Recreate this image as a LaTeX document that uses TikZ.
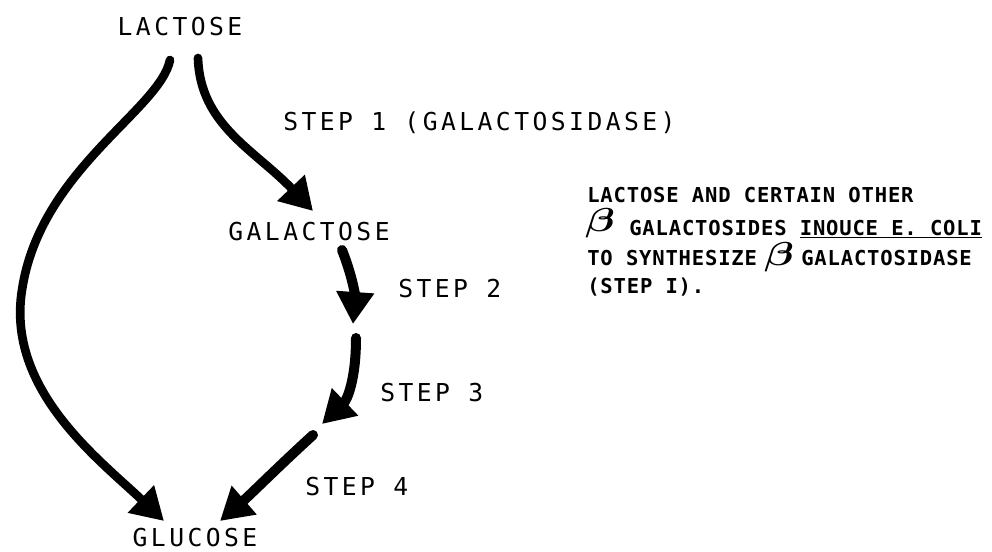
\documentclass[tikz,border=0pt]{standalone}
\usepackage{fontspec}
\usetikzlibrary{arrows.meta}
\newfontfamily\lblfont[LetterSpace=14]{DejaVu Sans Mono}
\newfontfamily\notefont[LetterSpace=4]{DejaVu Sans Mono}
\newcommand{\wbeta}{\scalebox{1.3}[1.0]{$\beta$}}
\tikzset{
  lbl/.style={font=\lblfont\fontsize{18.5}{20}\selectfont, inner sep=0pt, anchor=base},
  lblw/.style={lbl, anchor=base west},
  note/.style={font=\notefont\bfseries\fontsize{15.4}{17}\selectfont, inner sep=0pt, anchor=base west},
  betanode/.style={font=\fontsize{23}{23}\selectfont\boldmath, inner sep=0pt},
  flow/.style={line width=6.5pt, line cap=round, -{Triangle[length=24pt,width=27pt]}},
  flowthick/.style={flow, line width=7.5pt},
}
\begin{document}
\begin{tikzpicture}[x=0.75pt,y=-0.75pt]
\useasboundingbox (0,0) rectangle (992,551);
% labels
\node[lbl] (lac) at (180,35) {LACTOSE};
\node[lbl] (gal) at (309,240) {GALACTOSE};
\node[lbl] (glu) at (195,546) {GLUCOSE};
\node[lblw] (s1) at (283,130) {STEP 1 (GALACTOSIDASE)};
\node[lblw] (s2) at (398,297) {STEP 2};
\node[lblw] (s3) at (380,401) {STEP 3};
\node[lblw] (s4) at (305,495) {STEP 4};
% note block
\node[note] (n1) at (587,202) {LACTOSE AND CERTAIN OTHER};
\node[betanode] (b1) at (600,223) {\wbeta};
\node[note] (n2) at (629,235) {GALACTOSIDES \underline{INOUCE E. COLI}};
\node[note] (n3a) at (587,265) {TO SYNTHESIZE};
\node[betanode] (b2) at (779,257) {\wbeta};
\node[note] (n3b) at (801,265) {GALACTOSIDASE};
\node[note] (n4) at (587,293) {(STEP I).};
% connector ends
\coordinate (lacL) at (170,60);
\coordinate (lacR) at (198,58);
\coordinate (gluL) at (164,521);
\coordinate (gluR) at (220,521);
\coordinate (galT) at (313,211);
\coordinate (galB) at (342,250);
\coordinate (m2) at (353,324);
\coordinate (m3) at (356,338);
\coordinate (m4) at (322,424);
\coordinate (m5) at (313,435);
% arrows
\draw[flow] (lacL) .. controls (160,110) and (40,170) .. (22,290)
  .. controls (6,390) and (100,460) .. (gluL);
\draw[flow] (lacR) .. controls (200,125) and (255,150) .. (galT);
\draw[flowthick] (galB) .. controls (352,275) and (355,295) .. (m2);
\draw[flowthick] (m3) .. controls (356,380) and (347,400) .. (m4);
\draw[flowthick] (m5) .. controls (280,465) and (250,495) .. (gluR);
\end{tikzpicture}
\end{document}
